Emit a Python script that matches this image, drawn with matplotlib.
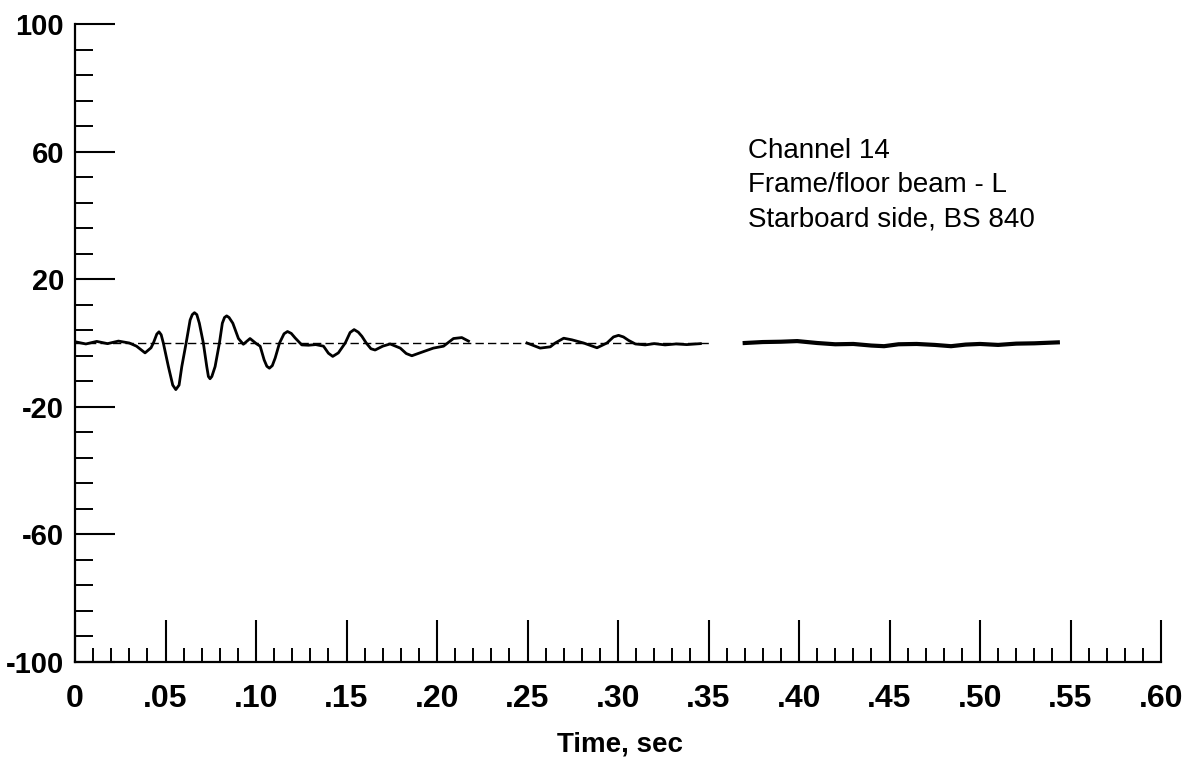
import matplotlib
matplotlib.use('Agg')
import matplotlib.pyplot as plt
from matplotlib.ticker import MultipleLocator, FixedLocator
import numpy as np

# Strain trace, read in three recorded segments (time in sec, strain)
seg1_t = [0.000, 0.006, 0.012, 0.018, 0.024, 0.030, 0.034, 0.0387, 0.042, 0.0433,
          0.0452, 0.0464, 0.0476, 0.0488, 0.0516, 0.0540, 0.0557, 0.0575, 0.059,
          0.0614, 0.0636, 0.0648, 0.066, 0.0673, 0.0687, 0.0709, 0.0728, 0.0737,
          0.0746, 0.0756, 0.0774, 0.0798, 0.0814, 0.0826, 0.0838, 0.0851, 0.0872,
          0.0903, 0.093, 0.0967, 0.1004, 0.1023, 0.1045, 0.1060, 0.1074, 0.1090,
          0.1106, 0.113, 0.1155, 0.1174, 0.1195, 0.1216, 0.1253, 0.129, 0.133,
          0.1373, 0.1400, 0.1424, 0.1455, 0.1493, 0.1520, 0.1542, 0.1565, 0.1585,
          0.1609, 0.1635, 0.1658, 0.170, 0.1741, 0.1797, 0.1830, 0.1861, 0.1925,
          0.198, 0.2036, 0.2091, 0.2137, 0.2174]
seg1_v = [0.4, -0.3, 0.5, -0.2, 0.6, 0.0, -1.0, -3.1, -1.5, 0.0,
          2.8, 3.5, 2.6, 0.0, -7.4, -13.2, -14.6, -13.2, -7.4,
          0.0, 7.2, 8.9, 9.5, 8.9, 6.2, 0.0, -7.4, -10.5,
          -11.2, -10.5, -7.4, 0.0, 6.2, 8.0, 8.5, 8.0, 6.2,
          1.4, -0.4, 1.4, -0.3, -1.0, -5.3, -7.3, -7.9, -7.1,
          -4.7, 0.0, 2.9, 3.6, 3.0, 1.6, -0.6, -0.7, -0.5,
          -1.0, -3.2, -4.2, -3.1, 0.0, 3.3, 4.2, 3.4, 2.1,
          0.0, -1.8, -2.2, -1.0, -0.3, -1.6, -3.3, -4.0, -2.7,
          -1.6, -1.0, 1.4, 1.7, 0.6]

seg2_t = [0.2497, 0.257, 0.2626, 0.2653, 0.270, 0.2745, 0.281, 0.2884, 0.2939,
          0.2975, 0.3003, 0.3030, 0.3059, 0.3096, 0.315, 0.320, 0.326, 0.332,
          0.338, 0.3455]
seg2_v = [0.0, -1.6, -1.2, 0.0, 1.5, 1.0, 0.0, -1.5, 0.0,
          1.9, 2.4, 1.9, 0.8, -0.3, -0.6, -0.2, -0.6, -0.3,
          -0.5, -0.2]

seg3_t = [0.370, 0.380, 0.390, 0.399, 0.410, 0.420, 0.430, 0.440, 0.447, 0.455,
          0.465, 0.475, 0.484, 0.492, 0.500, 0.510, 0.520, 0.530, 0.543]
seg3_v = [0.0, 0.3, 0.4, 0.6, 0.0, -0.4, -0.3, -0.8, -1.0, -0.4,
          -0.3, -0.6, -1.0, -0.5, -0.3, -0.6, -0.2, -0.1, 0.2]

x_ticks = [0.0, 0.05, 0.10, 0.15, 0.20, 0.25, 0.30, 0.35, 0.40, 0.45, 0.50, 0.55, 0.60]
x_labels = ['0', '.05', '.10', '.15', '.20', '.25', '.30', '.35', '.40', '.45', '.50', '.55', '.60']
y_ticks = [-100, -60, -20, 20, 60, 100]
y_labels = ['-100', '-60', '-20', '20', '60', '100']
note_lines = ['Channel 14', 'Frame/floor beam - L', 'Starboard side, BS 840']

plt.rcParams['font.family'] = ['Liberation Sans', 'DejaVu Sans']

W, H = 1186, 773
fig = plt.figure(figsize=(W / 100, H / 100), dpi=100)
ax = fig.add_axes([75 / W, 111 / H, (1161 - 75) / W, (662 - 24) / H])

ax.set_xlim(0, 0.6)
ax.set_ylim(-100, 100)

# zero reference line under the trace
ax.plot([0.0, 0.35], [0, 0], color='black', lw=1.0, ls=(0, (6, 3)), zorder=2)
for t, v in [(seg1_t, seg1_v), (seg2_t, seg2_v)]:
    ax.plot(t, v, color='black', lw=2.0, solid_joinstyle='round', zorder=3)
ax.plot(seg3_t, seg3_v, color='black', lw=3.0, solid_joinstyle='round', zorder=3)

for side in ['top', 'right']:
    ax.spines[side].set_visible(False)
for side in ['left', 'bottom']:
    ax.spines[side].set_linewidth(1.6)

ax.xaxis.set_major_locator(FixedLocator(x_ticks))
ax.xaxis.set_minor_locator(MultipleLocator(0.01))
ax.yaxis.set_major_locator(FixedLocator(y_ticks))
ax.yaxis.set_minor_locator(FixedLocator(np.arange(-100, 101, 8)))
ax.set_xticklabels(x_labels)
ax.set_yticklabels(y_labels)

ax.tick_params(axis='x', which='major', direction='in', length=30, width=1.5, pad=16)
ax.tick_params(axis='x', which='minor', direction='in', length=10, width=1.4)
ax.tick_params(axis='y', which='major', direction='in', length=29, width=1.5, pad=8)
ax.tick_params(axis='y', which='minor', direction='in', length=13, width=1.4)
for lab in ax.get_xticklabels():
    lab.set_fontsize(23)
    lab.set_fontweight('bold')
for lab in ax.get_yticklabels():
    lab.set_fontsize(21)
    lab.set_fontweight('bold')

fig.text(620 / W, 1 - 745 / H, 'Time, sec', ha='center', va='center',
         fontsize=20, fontweight='bold')

for i, line in enumerate(note_lines):
    fig.text(748 / W, 1 - (151 + 34 * i) / H, line, ha='left', va='center', fontsize=20)

fig.savefig('out.png', dpi=100)
